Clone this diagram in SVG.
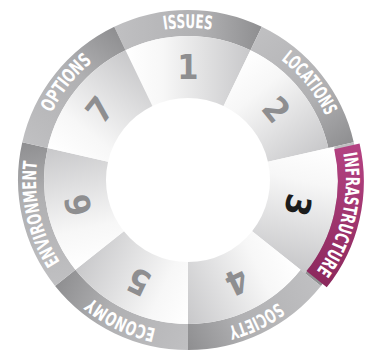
<svg xmlns="http://www.w3.org/2000/svg" xmlns:xlink="http://www.w3.org/1999/xlink" width="372" height="360" viewBox="0 0 372 360">
<style>
.band{fill:url(#gBand)}
.wedge{fill:url(#gWedge)}
.lbl{font-family:"DejaVu Sans Condensed","Liberation Sans Narrow","Liberation Sans",sans-serif;font-weight:bold;font-size:19px;fill:#ffffff}
.num{font-family:"DejaVu Sans Condensed","Liberation Sans",sans-serif;font-weight:bold;font-size:34px;fill:#8e8e90;text-anchor:middle}
</style>
<defs>
<linearGradient id="gBand" gradientUnits="userSpaceOnUse" x1="-74" y1="0" x2="74" y2="0">
<stop offset="0" stop-color="#c0c0c2"/>
<stop offset="0.6" stop-color="#b0b0b2"/>
<stop offset="1" stop-color="#8e8e90"/>
</linearGradient>
<linearGradient id="gWedge" gradientUnits="userSpaceOnUse" x1="-62" y1="0" x2="62" y2="0">
<stop offset="0" stop-color="#ffffff"/>
<stop offset="0.3" stop-color="#f7f7f7"/>
<stop offset="1" stop-color="#c8c8ca"/>
</linearGradient>
<linearGradient id="gMag" gradientUnits="userSpaceOnUse" x1="-74" y1="0" x2="74" y2="0">
<stop offset="0" stop-color="#b54383"/>
<stop offset="1" stop-color="#8b285c"/>
</linearGradient>
<path id="bandShape" d="M -73.76 -153.16 A 170 170 0 0 1 73.76 -153.16 L 62.48 -129.74 A 144 144 0 0 0 -62.48 -129.74 Z"/>
<path id="wedgeShape" d="M -62.48 -129.74 A 144 144 0 0 1 62.48 -129.74 L 35.58 -73.88 A 82 82 0 0 0 -35.58 -73.88 Z"/>
<path id="wedgeBig" d="M -65.08 -135.15 A 150 150 0 0 1 65.08 -135.15 L 35.58 -73.88 A 82 82 0 0 0 -35.58 -73.88 Z"/>
<path id="arc" d="M -131.64 -76 A 152 152 0 0 1 131.64 -76"/>
</defs>
<rect width="372" height="360" fill="#ffffff"/>
<g id="bands">
<use href="#bandShape" class="band" transform="translate(188,180) rotate(0)"/>
<use href="#bandShape" class="band" transform="translate(188,180) rotate(51.4286)"/>
<use href="#bandShape" class="band" transform="translate(188,180) rotate(102.857)"/>
<use href="#bandShape" class="band" transform="translate(188,180) rotate(154.286)"/>
<use href="#bandShape" class="band" transform="translate(188,180) rotate(205.714)"/>
<use href="#bandShape" class="band" transform="translate(188,180) rotate(257.143)"/>
<use href="#bandShape" class="band" transform="translate(188,180) rotate(308.571)"/>
</g>
<g id="seg1" transform="translate(188,180) rotate(0)">
<use href="#wedgeShape" class="wedge"/>
<text class="num" x="0" y="-113" dy="0.36em">1</text>
<text class="lbl"><textPath href="#arc" startOffset="50%" text-anchor="middle" textLength="48" lengthAdjust="spacingAndGlyphs">ISSUES</textPath></text>
</g>
<g id="seg2" transform="translate(188,180) rotate(51.4286)">
<use href="#wedgeShape" class="wedge"/>
<text class="num" x="0" y="-113" dy="0.36em">2</text>
<text class="lbl"><textPath href="#arc" startOffset="50%" text-anchor="middle" textLength="73" lengthAdjust="spacingAndGlyphs">LOCATIONS</textPath></text>
</g>
<g id="seg3" transform="translate(188,180) rotate(102.857)">
<use href="#wedgeBig" class="wedge"/>
<text class="num" x="0" y="-113" dy="0.36em" style="fill:#1c1c1c">3</text>
<g transform="translate(0,-6)">
<use href="#bandShape" fill="url(#gMag)"/>
<text class="lbl"><textPath href="#arc" startOffset="50%" text-anchor="middle" textLength="124" lengthAdjust="spacingAndGlyphs">INFRASTRUCTURE</textPath></text>
</g>
</g>
<g id="seg4" transform="translate(188,180) rotate(154.286)">
<use href="#wedgeShape" class="wedge"/>
<text class="num" x="0" y="-113" dy="0.36em">4</text>
<text class="lbl"><textPath href="#arc" startOffset="50%" text-anchor="middle" textLength="56" lengthAdjust="spacingAndGlyphs">SOCIETY</textPath></text>
</g>
<g id="seg5" transform="translate(188,180) rotate(205.714)">
<use href="#wedgeShape" class="wedge"/>
<text class="num" x="0" y="-113" dy="0.36em">5</text>
<text class="lbl"><textPath href="#arc" startOffset="50%" text-anchor="middle" textLength="72" lengthAdjust="spacingAndGlyphs">ECONOMY</textPath></text>
</g>
<g id="seg6" transform="translate(188,180) rotate(257.143)">
<use href="#wedgeShape" class="wedge"/>
<text class="num" x="0" y="-113" dy="0.36em">6</text>
<text class="lbl"><textPath href="#arc" startOffset="50%" text-anchor="middle" textLength="105" lengthAdjust="spacingAndGlyphs">ENVIRONMENT</textPath></text>
</g>
<g id="seg7" transform="translate(188,180) rotate(308.571)">
<use href="#wedgeShape" class="wedge"/>
<text class="num" x="0" y="-113" dy="0.36em">7</text>
<text class="lbl"><textPath href="#arc" startOffset="50%" text-anchor="middle" textLength="66" lengthAdjust="spacingAndGlyphs">OPTIONS</textPath></text>
</g>
<g id="connectors"/>
</svg>
